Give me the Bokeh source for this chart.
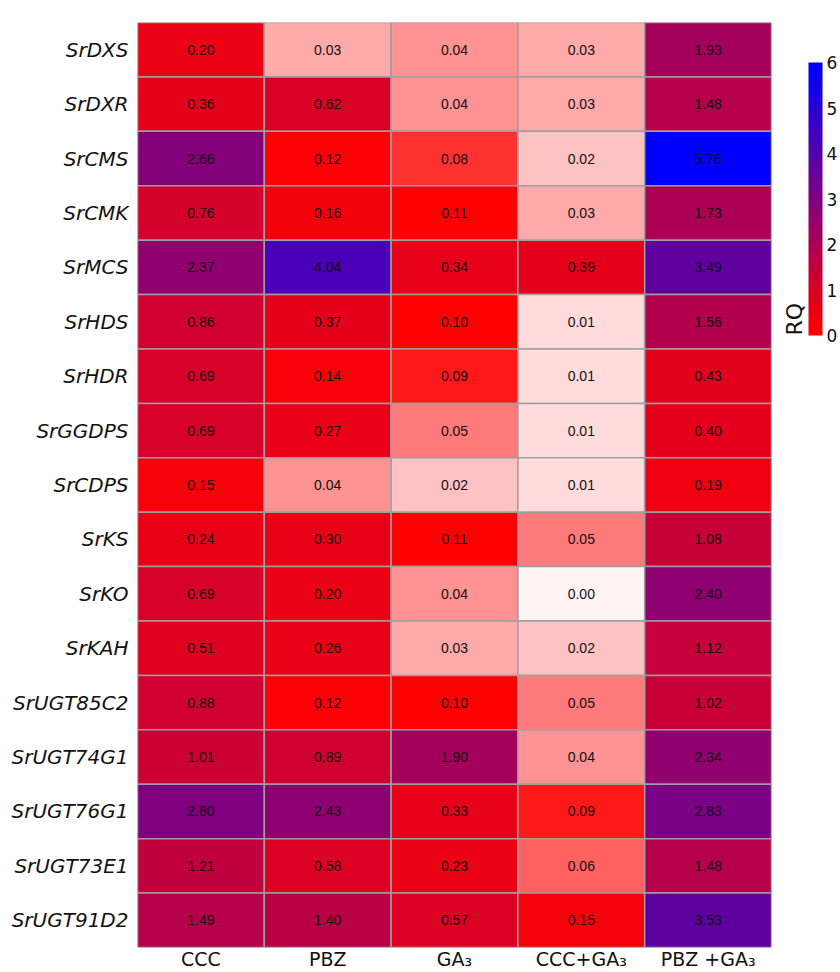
from bokeh.plotting import figure
from bokeh.models import (ColumnDataSource, LinearColorMapper, ColorBar,
                          FixedTicker, FactorRange)
from bokeh.transform import transform
from bokeh.core.properties import value
from bokeh.embed import file_html
from bokeh.resources import INLINE

# Genes (top to bottom) and treatments
genes = ["SrDXS", "SrDXR", "SrCMS", "SrCMK", "SrMCS", "SrHDS", "SrHDR",
         "SrGGDPS", "SrCDPS", "SrKS", "SrKO", "SrKAH", "SrUGT85C2",
         "SrUGT74G1", "SrUGT76G1", "SrUGT73E1", "SrUGT91D2"]
treatments = ["CCC", "PBZ", "GA\u2083", "CCC+GA\u2083", "PBZ +GA\u2083"]

# Relative quantification (RQ) per treatment, in gene order
rq_ccc = [0.20, 0.36, 2.66, 0.76, 2.37, 0.86, 0.69, 0.69, 0.15, 0.24,
          0.69, 0.51, 0.88, 1.01, 2.80, 1.21, 1.49]
rq_pbz = [0.03, 0.62, 0.12, 0.16, 4.04, 0.37, 0.14, 0.27, 0.04, 0.30,
          0.20, 0.26, 0.12, 0.89, 2.43, 0.58, 1.40]
rq_ga3 = [0.04, 0.04, 0.08, 0.11, 0.34, 0.10, 0.09, 0.05, 0.02, 0.11,
          0.04, 0.03, 0.10, 1.90, 0.33, 0.23, 0.57]
rq_ccc_ga3 = [0.03, 0.03, 0.02, 0.03, 0.39, 0.01, 0.01, 0.01, 0.01, 0.05,
              0.00, 0.02, 0.05, 0.04, 0.09, 0.06, 0.15]
rq_pbz_ga3 = [1.93, 1.48, 5.76, 1.73, 3.49, 1.56, 0.43, 0.40, 0.19, 1.08,
              2.40, 1.12, 1.02, 2.34, 2.83, 1.48, 3.53]

series = [rq_ccc, rq_pbz, rq_ga3, rq_ccc_ga3, rq_pbz_ga3]

xs, ys, vals, labels = [], [], [], []
for t, col in zip(treatments, series):
    for g, v in zip(genes, col):
        xs.append(t)
        ys.append(g)
        vals.append(v)
        labels.append(f"{v:.2f}")

src = ColumnDataSource(dict(x=xs, y=ys, v=vals, label=labels))


def lerp(c1, c2, f):
    f = min(max(f, 0.0), 1.0)
    return tuple(round(a + (b - a) * f) for a, b in zip(c1, c2))


PALE = (255, 243, 243)
RED = (255, 0, 0)
DARK_RED = (236, 0, 19)
BLUE = (0, 0, 255)
VMAX = 5.76


def rq_colour(v):
    if v <= 0.1:
        c = lerp(PALE, RED, v / 0.1)
    elif v <= 0.2:
        c = lerp(RED, DARK_RED, (v - 0.1) / 0.1)
    else:
        c = lerp(DARK_RED, BLUE, (v - 0.2) / (VMAX - 0.2))
    return "#%02x%02x%02x" % c


# Fine palette in 0.01 steps for the cells
step = 0.01
n = int(round(VMAX / step)) + 1
cell_palette = [rq_colour(i * step) for i in range(n)]
cell_mapper = LinearColorMapper(palette=cell_palette,
                                low=-step / 2, high=VMAX + step / 2)

# Legend bar: red to blue over 0..6
nbar = 30
bar_palette = ["#%02x%02x%02x" % lerp(RED, BLUE, i / (nbar - 1))
               for i in range(nbar)]
bar_mapper = LinearColorMapper(palette=bar_palette, low=0, high=6)

p = figure(width=840, height=972,
           x_range=FactorRange(*treatments),
           y_range=FactorRange(*reversed(genes)),
           output_backend="svg", toolbar_location=None,
           min_border_left=137, min_border_right=69,
           min_border_top=22, min_border_bottom=25)

p.rect(x="x", y="y", width=1, height=1, source=src,
       fill_color=transform("v", cell_mapper),
       line_color="#9e9e9e", line_width=1.5)

p.text(x="x", y="y", text="label", source=src,
       text_align="center", text_baseline="middle",
       text_font=value("Liberation Sans"), text_font_size="14px",
       text_color="#111111")

p.outline_line_color = None
p.grid.visible = False

for ax in (p.xaxis[0], p.yaxis[0]):
    ax.axis_line_color = None
    ax.major_tick_line_color = None
    ax.minor_tick_line_color = None
    ax.major_tick_out = 0
    ax.major_tick_in = 0
    ax.minor_tick_out = 0
    ax.major_label_text_font = "DejaVu Sans"
    ax.major_label_text_color = "#111111"

p.yaxis.major_label_text_font_style = "italic"
p.yaxis.major_label_text_font_size = "20px"
p.yaxis.major_label_standoff = 9
p.xaxis.major_label_text_font_size = "19px"
p.xaxis.major_label_standoff = 0

# Colour key with its "RQ" title, placed to the right of the grid
cbar = ColorBar(color_mapper=bar_mapper, width=14, height=273,
                ticker=FixedTicker(ticks=[0, 1, 2, 3, 4, 5, 6]),
                title="RQ", title_text_font="DejaVu Sans",
                title_text_font_size="22px", title_text_font_style="normal",
                title_text_color="#111111", title_standoff=4,
                major_label_text_font="DejaVu Sans",
                major_label_text_font_size="17px",
                major_label_text_color="#111111",
                major_tick_line_color=None, bar_line_color=None,
                border_line_color=None, background_fill_alpha=0,
                label_standoff=4, padding=0, margin=0,
                location=(640, 612))
p.add_layout(cbar)

open("out.html", "w").write(file_html(p, INLINE))
